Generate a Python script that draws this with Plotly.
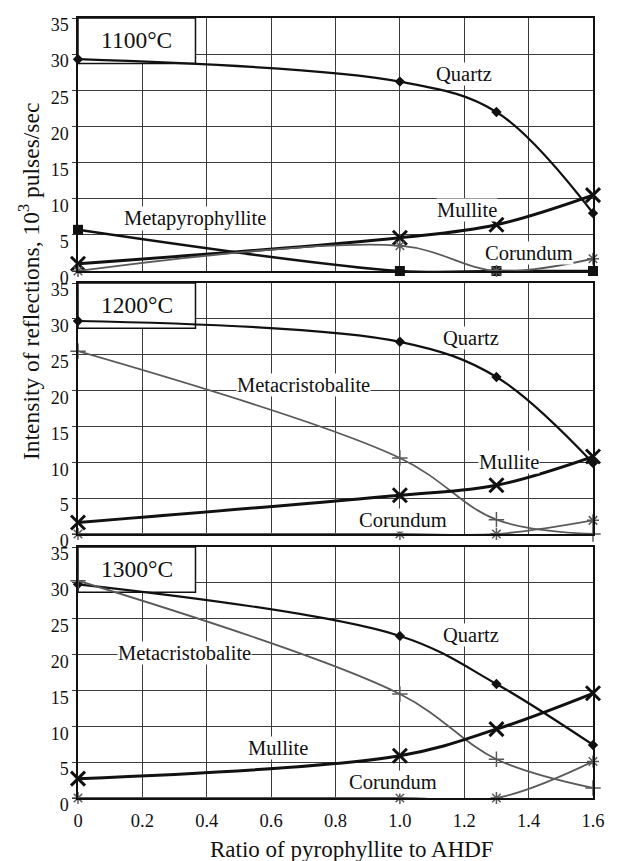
import plotly.graph_objects as go

ratio = [0.0, 1.0, 1.3, 1.6]
x_tick_vals = [0, 0.2, 0.4, 0.6, 0.8, 1.0, 1.2, 1.4, 1.6]
x_tick_text = ["0", "0.2", "0.4", "0.6", "0.8", "1.0", "1.2", "1.4", "1.6"]
y_tick_vals = [0, 5, 10, 15, 20, 25, 30, 35]

# 1100 C
quartz_1100 = [29.3, 26.2, 22.0, 8.0]
mullite_1100 = [1.0, 4.6, 6.4, 10.5]
metapyro_1100 = [5.7, 0.0, 0.0, 0.0]
corundum_1100 = [0.0, 3.5, 0.0, 1.7]

# 1200 C
quartz_1200 = [29.7, 26.8, 21.9, 9.9]
metacrist_1200 = [25.5, 10.6, 2.0, 0.0]
mullite_1200 = [1.6, 5.4, 6.8, 10.8]
corundum_1200 = [0.0, 0.0, 0.0, 1.9]

# 1300 C
quartz_1300 = [29.8, 22.6, 15.9, 7.4]
metacrist_1300 = [30.3, 14.5, 5.4, 1.4]
mullite_1300 = [2.7, 5.9, 9.6, 14.6]
corundum_1300 = [0.0, 0.0, 0.0, 5.1]

FONT = "Liberation Serif"
BLACK = "#111111"
GRAY = "#5a5a5a"

styles = {
    "Quartz": dict(color=BLACK, width=2.2, symbol="diamond", msize=8, mline=0),
    "Mullite": dict(color=BLACK, width=3, symbol="x-thin-open", msize=14, mline=3),
    "Metapyrophyllite": dict(color=BLACK, width=2.5, symbol="square", msize=10, mline=0),
    "Corundum": dict(color=GRAY, width=1.8, symbol="asterisk-open", msize=10, mline=1.5),
    "Metacristobalite": dict(color=GRAY, width=1.8, symbol="cross-thin-open", msize=11, mline=1.5),
}

panels = [
    ("y", "x3", [("Quartz", quartz_1100), ("Mullite", mullite_1100),
                 ("Metapyrophyllite", metapyro_1100), ("Corundum", corundum_1100)]),
    ("y2", "x2", [("Quartz", quartz_1200), ("Metacristobalite", metacrist_1200),
                  ("Mullite", mullite_1200), ("Corundum", corundum_1200)]),
    ("y3", "x", [("Quartz", quartz_1300), ("Metacristobalite", metacrist_1300),
                 ("Mullite", mullite_1300), ("Corundum", corundum_1300)]),
]

fig = go.Figure()
for yref, xref, series in panels:
    for name, vals in series:
        s = styles[name]
        fig.add_trace(go.Scatter(
            x=ratio, y=vals, mode="lines", name=name, showlegend=False,
            line=dict(color=s["color"], width=s["width"], shape="spline", smoothing=1.0),
            xaxis=xref, yaxis=yref, cliponaxis=True, hoverinfo="skip"))
        fig.add_trace(go.Scatter(
            x=ratio, y=vals, mode="markers", name=name, showlegend=False,
            marker=dict(symbol=s["symbol"], size=s["msize"], color=s["color"],
                        line=dict(color=s["color"], width=s["mline"])),
            xaxis=xref, yaxis=yref, cliponaxis=False))

# page body has an 8px margin: figure starts at (8, 8)
W, HT = 604, 853
ML, MT = 70, 10
PW = 515.0
H = 780.0
MR = W - ML - int(PW)
MB = HT - MT - int(H)

dom3 = [0.0, 251 / H]
dom2 = [264 / H, 515 / H]
dom1 = [527 / H, 1.0]

yax = dict(range=[0, 35], tickvals=y_tick_vals, showgrid=True, gridcolor="#3c3c3c",
           gridwidth=1.2, showline=True, linecolor=BLACK, linewidth=1.5, mirror=True,
           ticks="outside", ticklen=4, tickcolor="#3c3c3c", zeroline=False,
           tickfont=dict(family=FONT, size=18, color=BLACK), ticklabelshift=7)
xax = dict(range=[0, 1.6], tickvals=x_tick_vals, ticktext=x_tick_text, showgrid=True,
           gridcolor="#3c3c3c", gridwidth=1.2, showline=True, linecolor=BLACK,
           linewidth=1.5, mirror=True, zeroline=False, ticklabelstandoff=5,
           tickfont=dict(family=FONT, size=18.5, color=BLACK))

fig.update_layout(
    width=W, height=HT,
    margin=dict(l=ML, r=MR, t=MT, b=MB, autoexpand=False),
    paper_bgcolor="white", plot_bgcolor="white",
    font=dict(family=FONT, color=BLACK),
    showlegend=False,
    xaxis=dict(xax, anchor="y3", domain=[0, 1]),
    xaxis2=dict(xax, anchor="y2", matches="x", showticklabels=False),
    xaxis3=dict(xax, anchor="y", matches="x", showticklabels=False),
    yaxis=dict(yax, domain=dom1, anchor="x3"),
    yaxis2=dict(yax, domain=dom2, anchor="x2"),
    yaxis3=dict(yax, domain=dom3, anchor="x"),
)

# temperature boxes
for yref, xref, label in [("y", "x3", "1100°C"), ("y2", "x2", "1200°C"), ("y3", "x", "1300°C")]:
    fig.add_shape(type="rect", xref=xref, yref=yref, x0=0, x1=0.365, y0=28.7, y1=35,
                  line=dict(color=BLACK, width=1.5), fillcolor="white", layer="between")
    fig.add_annotation(xref=xref, yref=yref, x=0.182, y=31.9, text=label, showarrow=False,
                       font=dict(family=FONT, size=23.5, color=BLACK))

labels = [
    ("x3", "y", 1.20, 27.3, "Quartz"),
    ("x3", "y", 0.363, 7.2, "Metapyrophyllite"),
    ("x3", "y", 1.21, 8.4, "Mullite"),
    ("x3", "y", 1.40, 2.5, "Corundum"),
    ("x2", "y2", 1.22, 27.3, "Quartz"),
    ("x2", "y2", 0.70, 20.8, "Metacristobalite"),
    ("x2", "y2", 1.34, 10.0, "Mullite"),
    ("x2", "y2", 1.01, 2.0, "Corundum"),
    ("x", "y3", 1.22, 22.7, "Quartz"),
    ("x", "y3", 0.33, 20.2, "Metacristobalite"),
    ("x", "y3", 0.62, 7.0, "Mullite"),
    ("x", "y3", 0.98, 2.2, "Corundum"),
]
for xr, yr, xv, yv, t in labels:
    fig.add_annotation(xref=xr, yref=yr, x=xv, y=yv, text=t, showarrow=False,
                       bgcolor="white", borderpad=0,
                       font=dict(family=FONT, size=20.5, color=BLACK))

# axis titles (positions in page pixels relative to the plot area)
fig.add_annotation(xref="paper", yref="paper", x=(352 - 78) / PW, y=(798 - 849) / H,
                   text="Ratio of pyrophyllite to AHDF", showarrow=False,
                   xanchor="center", yanchor="middle",
                   font=dict(family=FONT, size=23, color=BLACK))
fig.add_annotation(xref="paper", yref="paper", x=(29 - 78) / PW, y=(798 - 282) / H,
                   text="Intensity of reflections, 10<sup>3</sup> pulses/sec", showarrow=False,
                   textangle=-90, xanchor="center", yanchor="middle",
                   font=dict(family=FONT, size=23.5, color=BLACK))

fig.write_html("out.html")
